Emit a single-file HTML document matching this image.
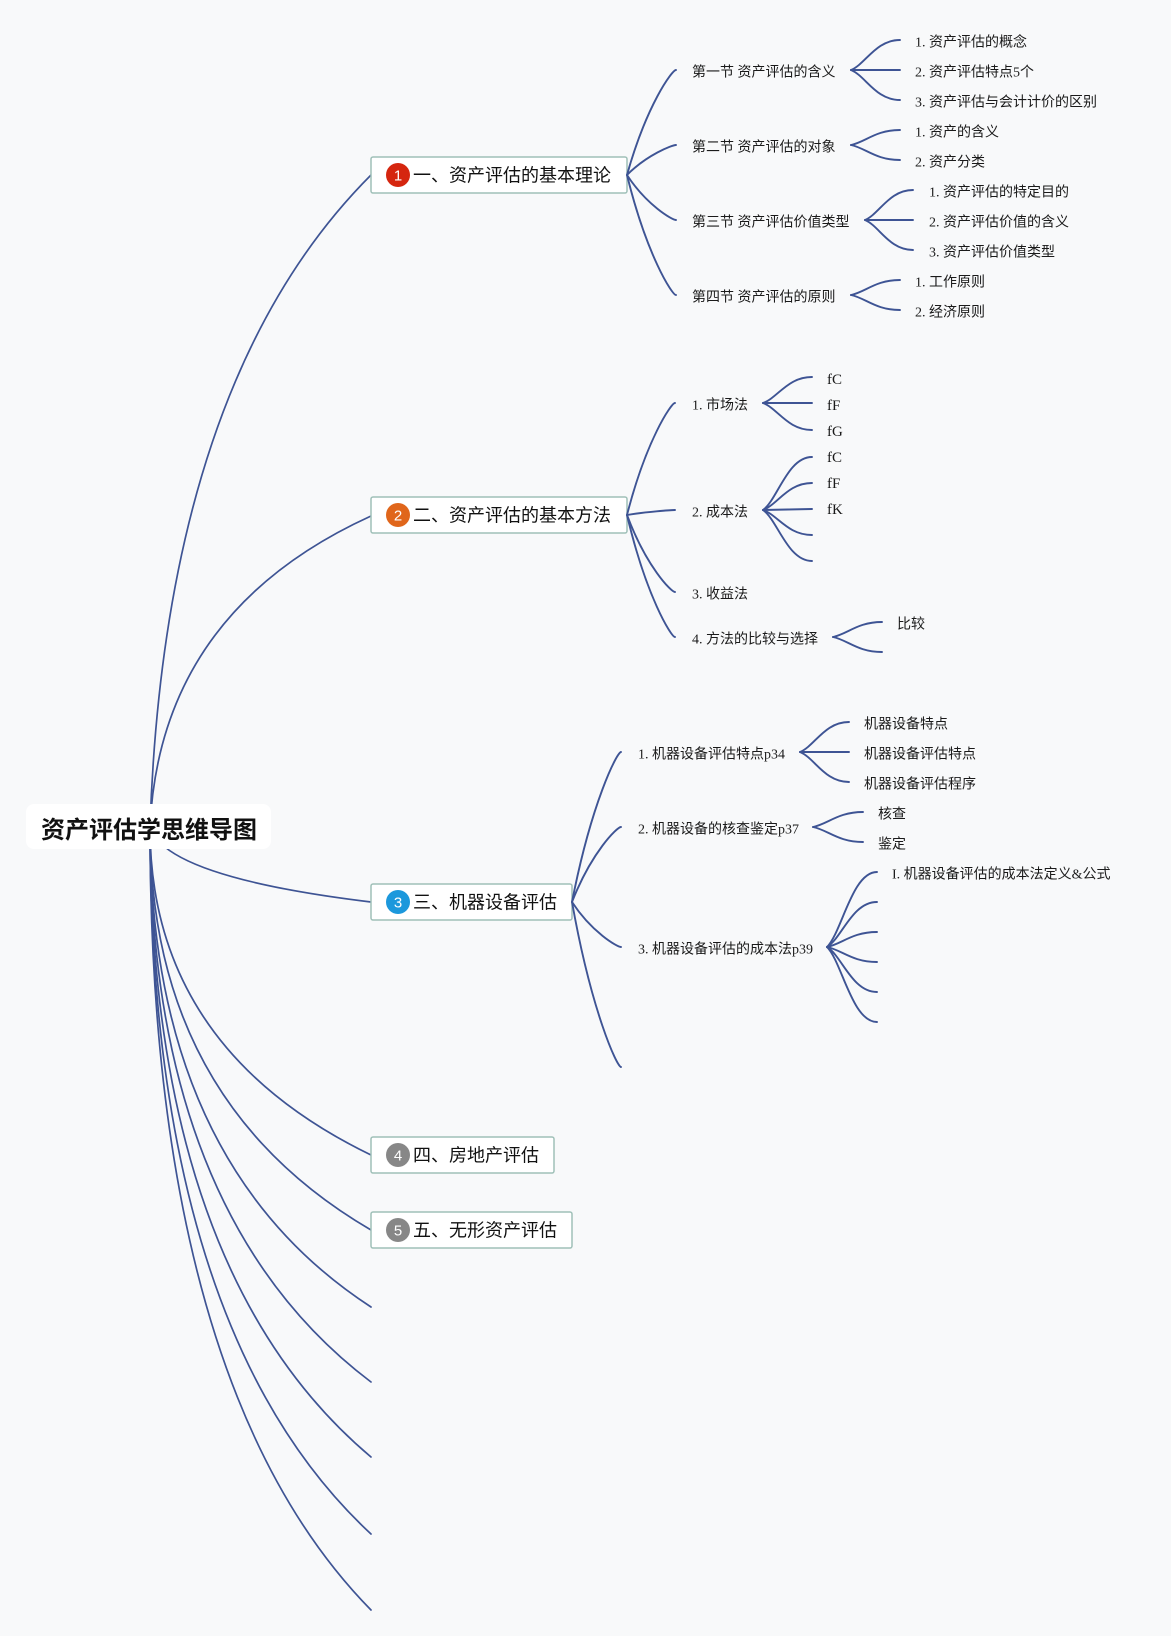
<!DOCTYPE html>
<html>
<head>
<meta charset="utf-8">
<style>
  html,body{margin:0;padding:0;background:#f8f9fa;}
  svg{display:block;}
  .ln{fill:none;stroke:#3e5494;stroke-width:1.7;stroke-linecap:round;}
  .sl{fill:none;stroke:#3e5494;stroke-width:1.9;stroke-linecap:round;}
  .box{fill:#ffffff;stroke:#9fc0b8;stroke-width:1.5;}
  .t1{font-family:"Liberation Sans","Noto Sans CJK SC",sans-serif;font-size:18px;fill:#111;}
  .t2{font-family:"Liberation Serif","Noto Sans CJK SC",serif;font-size:14px;fill:#1a1a1a;}
  .tl{font-family:"Liberation Serif","Noto Sans CJK SC",serif;font-size:15px;fill:#1a1a1a;}
  .root{font-family:"Liberation Sans","Noto Sans CJK SC",sans-serif;font-size:24px;font-weight:bold;fill:#111;}
  .bn{font-family:"Liberation Sans",sans-serif;font-size:15px;fill:#fff;}
</style>
</head>
<body>
<svg width="1171" height="1636" viewBox="0 0 1171 1636" xmlns="http://www.w3.org/2000/svg">
  <rect x="0" y="0" width="1171" height="1636" fill="#f8f9fa"/>

  <!-- root branches -->
  <path class="ln" d="M150 827 Q165 381 371 175"/>
  <path class="ln" d="M150 827 Q160 612 371 516"/>
  <path class="ln" d="M150 827 Q165 877 371 902"/>
  <path class="ln" d="M150 827 Q150 1048 371 1155"/>
  <path class="ln" d="M150 827 Q150 1101 371 1230"/>
  <path class="ln" d="M150 827 Q150 1163 371 1307"/>
  <path class="ln" d="M150 827 Q150 1215 371 1382"/>
  <path class="ln" d="M150 827 Q150 1271 371 1457"/>
  <path class="ln" d="M150 827 Q150 1329 371 1534"/>
  <path class="ln" d="M150 827 Q150 1385 371 1610"/>

  <!-- root -->
  <rect x="26" y="804" width="245" height="45" rx="8" fill="#ffffff"/>
  <text class="root" x="41" y="838">资产评估学思维导图</text>

  <!-- level 1 boxes -->
  <rect class="box" x="371" y="157" width="256" height="36" rx="2"/>
  <circle cx="398" cy="175" r="12" fill="#d5260f"/>
  <text class="bn" x="398" y="180.5" text-anchor="middle">1</text>
  <text class="t1" x="413" y="181.5">一、资产评估的基本理论</text>

  <rect class="box" x="371" y="497" width="256" height="36" rx="2"/>
  <circle cx="398" cy="515" r="12" fill="#e0661b"/>
  <text class="bn" x="398" y="520.5" text-anchor="middle">2</text>
  <text class="t1" x="413" y="521.5">二、资产评估的基本方法</text>

  <rect class="box" x="371" y="884" width="201" height="36" rx="2"/>
  <circle cx="398" cy="902" r="12" fill="#1c98dc"/>
  <text class="bn" x="398" y="907.5" text-anchor="middle">3</text>
  <text class="t1" x="413" y="908.5">三、机器设备评估</text>

  <rect class="box" x="371" y="1137" width="183" height="36" rx="2"/>
  <circle cx="398" cy="1155" r="12" fill="#878787"/>
  <text class="bn" x="398" y="1160.5" text-anchor="middle">4</text>
  <text class="t1" x="413" y="1161.5">四、房地产评估</text>

  <rect class="box" x="371" y="1212" width="201" height="36" rx="2"/>
  <circle cx="398" cy="1230" r="12" fill="#878787"/>
  <text class="bn" x="398" y="1235.5" text-anchor="middle">5</text>
  <text class="t1" x="413" y="1236.5">五、无形资产评估</text>

  <!-- ===== Branch 1 level 2 ===== -->
  <path class="sl" d="M627 175 C646.6 105 672.1 70 676 70"/>
  <path class="sl" d="M627 175 C646.6 155 672.1 145 676 145"/>
  <path class="sl" d="M627 175 C646.6 205 672.1 220 676 220"/>
  <path class="sl" d="M627 175 C646.6 255 672.1 295 676 295"/>
  <text class="t2" x="692" y="76.5">第一节 资产评估的含义</text>
  <text class="t2" x="692" y="151.5">第二节 资产评估的对象</text>
  <text class="t2" x="692" y="226.5">第三节 资产评估价值类型</text>
  <text class="t2" x="692" y="301.5">第四节 资产评估的原则</text>

  <!-- Branch 1 leaves -->
  <path class="sl" d="M851 70 C865.7 64 875.5 40 900 40"/>
  <path class="sl" d="M851 70 L900 70"/>
  <path class="sl" d="M851 70 C865.7 76 875.5 100 900 100"/>
  <path class="sl" d="M851 145 C865.7 142 875.5 130 900 130"/>
  <path class="sl" d="M851 145 C865.7 148 875.5 160 900 160"/>
  <path class="sl" d="M865 220 C879.4 214 889 190 913 190"/>
  <path class="sl" d="M865 220 L913 220"/>
  <path class="sl" d="M865 220 C879.4 226 889 250 913 250"/>
  <path class="sl" d="M851 295 C865.7 292 875.5 280 900 280"/>
  <path class="sl" d="M851 295 C865.7 298 875.5 310 900 310"/>

  <text class="t2" x="915" y="46.5">1. 资产评估的概念</text>
  <text class="t2" x="915" y="76.5">2. 资产评估特点5个</text>
  <text class="t2" x="915" y="106.5">3. 资产评估与会计计价的区别</text>
  <text class="t2" x="915" y="136.5">1. 资产的含义</text>
  <text class="t2" x="915" y="166.5">2. 资产分类</text>
  <text class="t2" x="929" y="196.5">1. 资产评估的特定目的</text>
  <text class="t2" x="929" y="226.5">2. 资产评估价值的含义</text>
  <text class="t2" x="929" y="256.5">3. 资产评估价值类型</text>
  <text class="t2" x="915" y="286.5">1. 工作原则</text>
  <text class="t2" x="915" y="316.5">2. 经济原则</text>

  <!-- ===== Branch 2 level 2 ===== -->
  <path class="sl" d="M627 515 C646.2 440.3 671.2 403 675 403"/>
  <path class="sl" d="M627 515 C646.2 511.7 671.2 510 675 510"/>
  <path class="sl" d="M627 515 C646.2 566.4 671.2 592 675 592"/>
  <path class="sl" d="M627 515 C646.2 596.4 671.2 637 675 637"/>
  <text class="t2" x="692" y="409.5">1. 市场法</text>
  <text class="t2" x="692" y="516.5">2. 成本法</text>
  <text class="t2" x="692" y="598.5">3. 收益法</text>
  <text class="t2" x="692" y="643.5">4. 方法的比较与选择</text>

  <!-- Branch 2 leaves -->
  <path class="sl" d="M763 403 C777.7 397.8 787.5 377 812 377"/>
  <path class="sl" d="M763 403 L812 403"/>
  <path class="sl" d="M763 403 C777.7 408.4 787.5 430 812 430"/>
  <path class="sl" d="M763 510 C777.7 499.4 787.5 457 812 457"/>
  <path class="sl" d="M763 510 C777.7 504.6 787.5 483 812 483"/>
  <path class="sl" d="M763 510 L812 509"/>
  <path class="sl" d="M763 510 C777.7 515 787.5 535 812 535"/>
  <path class="sl" d="M763 510 C777.7 520.2 787.5 561 812 561"/>
  <path class="sl" d="M833 637 C847.7 634 857.5 622 882 622"/>
  <path class="sl" d="M833 637 C847.7 640 857.5 652 882 652"/>

  <text class="tl" x="827" y="384">fC</text>
  <text class="tl" x="827" y="410">fF</text>
  <text class="tl" x="827" y="436">fG</text>
  <text class="tl" x="827" y="462">fC</text>
  <text class="tl" x="827" y="488">fF</text>
  <text class="tl" x="827" y="514">fK</text>
  <text class="t2" x="897" y="628.5">比较</text>

  <!-- ===== Branch 3 level 2 ===== -->
  <path class="sl" d="M572 902 C591.6 802 617.1 752 621 752"/>
  <path class="sl" d="M572 902 C591.6 852 617.1 827 621 827"/>
  <path class="sl" d="M572 902 C591.6 932 617.1 947 621 947"/>
  <path class="sl" d="M572 902 C591.6 1012 617.1 1067 621 1067"/>
  <text class="t2" x="638" y="758.5">1. 机器设备评估特点p34</text>
  <text class="t2" x="638" y="833.5">2. 机器设备的核查鉴定p37</text>
  <text class="t2" x="638" y="953.5">3. 机器设备评估的成本法p39</text>

  <!-- Branch 3 leaves -->
  <path class="sl" d="M800 752 C814.7 746 824.5 722 849 722"/>
  <path class="sl" d="M800 752 L849 752"/>
  <path class="sl" d="M800 752 C814.7 758 824.5 782 849 782"/>
  <path class="sl" d="M813 827 C828 824 838 812 863 812"/>
  <path class="sl" d="M813 827 C828 830 838 842 863 842"/>
  <path class="sl" d="M827 947 C842 932 852 872 877 872"/>
  <path class="sl" d="M827 947 C842 938 852 902 877 902"/>
  <path class="sl" d="M827 947 C842 944 852 932 877 932"/>
  <path class="sl" d="M827 947 C842 950 852 962 877 962"/>
  <path class="sl" d="M827 947 C842 956 852 992 877 992"/>
  <path class="sl" d="M827 947 C842 962 852 1022 877 1022"/>

  <text class="t2" x="864" y="728.5">机器设备特点</text>
  <text class="t2" x="864" y="758.5">机器设备评估特点</text>
  <text class="t2" x="864" y="788.5">机器设备评估程序</text>
  <text class="t2" x="878" y="818.5">核查</text>
  <text class="t2" x="878" y="848.5">鉴定</text>
  <text class="t2" x="892" y="878.5">I. 机器设备评估的成本法定义&amp;公式</text>
</svg>
</body>
</html>
